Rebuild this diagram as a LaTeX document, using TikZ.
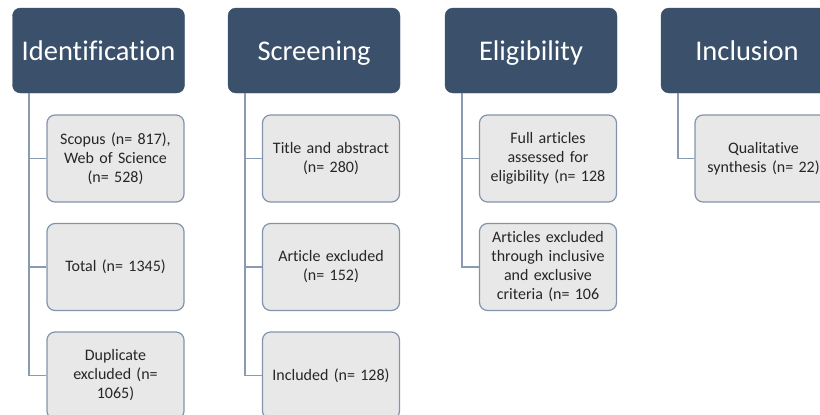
\documentclass[tikz,border=0pt]{standalone}
\usepackage{fontspec}
\setmainfont{Carlito}[Ligatures=NoCommon]
\definecolor{headblue}{HTML}{3B506A}
\definecolor{boxgray}{HTML}{E8E8E8}
\definecolor{edgeblue}{HTML}{8294AC}
\definecolor{linkblue}{HTML}{8A9AB0}
\definecolor{txtgray}{HTML}{262626}
\begin{document}
\begin{tikzpicture}[x=1pt,y=-1pt]
\tikzstyle{phase}=[rectangle, rounded corners=8pt, fill=headblue, draw=headblue, minimum width=172pt, minimum height=85pt, text=white, font=\fontsize{28.5}{34}\selectfont, text height=25pt, text depth=6pt, inner sep=0pt]
\tikzstyle{step box}=[rectangle, rounded corners=8pt, fill=boxgray, draw=edgeblue, line width=1.2pt, minimum width=137pt, minimum height=87pt, text width=127pt, align=center, text=txtgray, font=\fontsize{16}{19}\selectfont, inner sep=0pt]
\tikzstyle{link}=[draw=linkblue, line width=1.6pt]
\useasboundingbox (0,0) rectangle (820,415);
\clip (0,0) rectangle (820,415);
\draw (98.5,50.5) node (idh) [phase] {Identification};
\draw (314,50.5) node (sch) [phase] {Screening};
\draw (531,50.5) node (elh) [phase] {Eligibility};
\draw (747,50.5) node (inh) [phase] {Inclusion};
\coordinate (idt) at (29,93);
\coordinate (sct) at (245,93);
\coordinate (elt) at (462,93);
\coordinate (intp) at (678,93);
\draw (115.5,158.5) node (id1) [step box] {Scopus (n= 817),\\ Web of Science\\ (n= 528)};
\draw (115.5,267) node (id2) [step box] {Total (n= 1345)};
\draw (115.5,375.5) node (id3) [step box] {Duplicate\\ excluded (n=\\ 1065)};
\draw (331,158.5) node (sc1) [step box] {Title and abstract\\ (n= 280)};
\draw (331,267) node (sc2) [step box] {Article excluded\\ (n= 152)};
\draw (331,375.5) node (sc3) [step box] {Included (n= 128)};
\draw (548,158.5) node (el1) [step box] {Full articles\\ assessed for\\ eligibility (n= 128};
\draw (548,267) node (el2) [step box] {Articles excluded\\ through inclusive\\ and exclusive\\ criteria (n= 106};
\draw (763.5,158.5) node (in1) [step box] {Qualitative\\ synthesis (n= 22)};
\draw[link] (idt) |- (id3.west);
\draw[link] (idt) |- (id2.west);
\draw[link] (idt) |- (id1.west);
\draw[link] (sct) |- (sc3.west);
\draw[link] (sct) |- (sc2.west);
\draw[link] (sct) |- (sc1.west);
\draw[link] (elt) |- (el2.west);
\draw[link] (elt) |- (el1.west);
\draw[link] (intp) |- (in1.west);
\end{tikzpicture}
\end{document}
